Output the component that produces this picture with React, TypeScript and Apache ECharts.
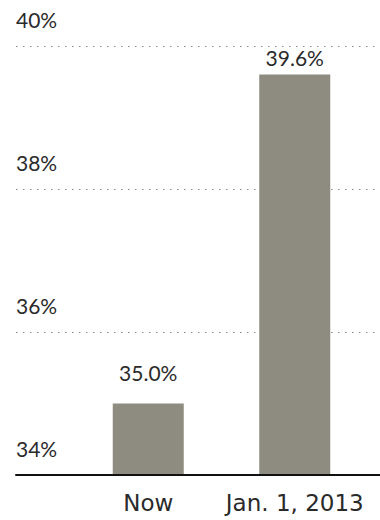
import React, { useEffect, useRef } from "react";
import * as echarts from "echarts";

const categories = ["Now", "Jan. 1, 2013"];
const values = [35.0, 39.6];
const yMin = 34;
const yMax = 40;
const yInterval = 2;

const FONT = "Lato, 'DejaVu Sans', sans-serif";
const CAT_FONT = "'DejaVu Sans', sans-serif";
const labelDistances = [21, 7];

export default function App() {
  const ref = useRef<HTMLDivElement>(null);
  useEffect(() => {
    if (!ref.current) return;
    const chart = echarts.init(ref.current, null, { renderer: "svg" });
    chart.setOption({
      animation: false,
      backgroundColor: "#ffffff",
      grid: [
        { left: 16, right: 0, top: 46, bottom: 45 },
        { left: 75, right: 12, top: 46, bottom: 45 },
      ],
      xAxis: [
        {
          gridIndex: 0,
          type: "category",
          data: [""],
          axisLine: { show: true, lineStyle: { color: "#111", width: 2 } },
          axisTick: { show: false },
          axisLabel: { show: false },
          z: 5,
        },
        {
          gridIndex: 1,
          type: "category",
          data: categories,
          axisLine: { show: false },
          axisTick: { show: false },
          axisLabel: {
            interval: 0,
            hideOverlap: false,
            fontFamily: CAT_FONT,
            fontSize: 23,
            color: "#2a2a2a",
            margin: 16,
          },
        },
      ],
      yAxis: [
        {
          gridIndex: 0,
          type: "value",
          min: yMin,
          max: yMax,
          interval: yInterval,
          axisLine: { show: false },
          axisTick: { show: false },
          splitLine: {
            show: true,
            lineStyle: { color: "#8a8a8a", width: 1.2, type: [1.5, 5.5] },
          },
          axisLabel: {
            inside: true,
            margin: 0,
            align: "left",
            verticalAlign: "bottom",
            padding: [0, 0, 16, 0],
            fontFamily: FONT,
            fontSize: 21,
            color: "#2a2a2a",
            formatter: "{value}%",
          },
        },
        {
          gridIndex: 1,
          type: "value",
          min: yMin,
          max: yMax,
          interval: yInterval,
          show: false,
          splitLine: { show: false },
        },
      ],
      series: [
        {
          type: "bar",
          xAxisIndex: 1,
          yAxisIndex: 1,
          data: values.map((v, i) => ({
            value: v,
            label: { distance: labelDistances[i] },
          })),
          barWidth: 71,
          itemStyle: { color: "#8e8b80" },
          label: {
            show: true,
            position: "top",
            fontFamily: FONT,
            fontSize: 21,
            color: "#2a2a2a",
            formatter: (p: any) => Number(p.value).toFixed(1) + "%",
          },
        },
      ],
    });
    return () => chart.dispose();
  }, []);
  return (
    <div
      ref={ref}
      style={{ position: "fixed", left: 0, top: 0, width: 380, height: 520 }}
    />
  );
}
